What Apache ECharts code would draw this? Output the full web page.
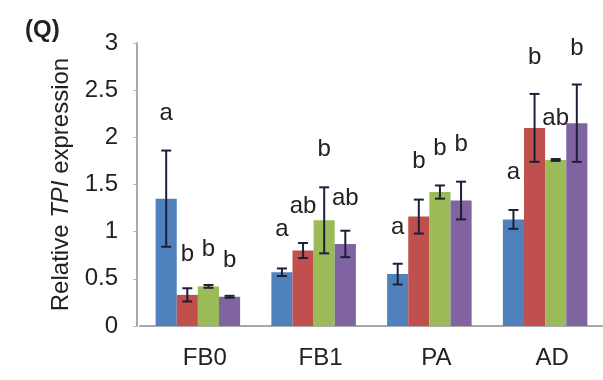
<!DOCTYPE html>
<html>
<head>
<meta charset="utf-8">
<script src="https://cdn.jsdelivr.net/npm/echarts@6/dist/echarts.min.js"></script>
<style>
html,body{margin:0;padding:0;background:#fff;}
#chart{width:603px;height:380px;}
</style>
</head>
<body>
<div id="chart"></div>
<script>
var categories = ['FB0', 'FB1', 'PA', 'AD'];
var yTicks = [0, 0.5, 1, 1.5, 2, 2.5, 3];

var means1 = [1.35, 0.57, 0.55, 1.13];
var means2 = [0.33, 0.80, 1.16, 2.10];
var means3 = [0.42, 1.12, 1.42, 1.76];
var means4 = [0.31, 0.87, 1.33, 2.15];

var errs1 = [0.51, 0.04, 0.11, 0.10];
var errs2 = [0.07, 0.08, 0.18, 0.36];
var errs3 = [0.015, 0.35, 0.07, 0.01];
var errs4 = [0.01, 0.14, 0.20, 0.41];

var letters1 = ['a', 'a', 'a', 'a'];
var letters2 = ['b', 'ab', 'b', 'b'];
var letters3 = ['b', 'b', 'b', 'ab'];
var letters4 = ['b', 'ab', 'b', 'b'];

var letterY1 = [2.25, 1.02, 1.05, 1.63];
var letterY2 = [0.76, 1.27, 1.74, 2.85];
var letterY3 = [0.81, 1.87, 1.88, 2.20];
var letterY4 = [0.70, 1.35, 1.93, 2.94];

var colors = ['#4F81BD', '#C0504D', '#9BBB59', '#8064A2'];
var FONT = "'Liberation Sans', Arial, sans-serif";
var GAP = 0.27;

var allMeans = [means1, means2, means3, means4];
var allErrs = [errs1, errs2, errs3, errs4];
var allLetters = [letters1, letters2, letters3, letters4];
var allLetterY = [letterY1, letterY2, letterY3, letterY4];

function makeRender(si) {
  return function (params, api) {
    var x = api.value(0), m = api.value(1), e = api.value(2), ly = api.value(3);
    var catW = api.size([1, 0])[0];
    var bw = catW * (1 - GAP) / 4;
    var off = (si - 1.5) * bw;
    var top = api.coord([x, m + e]);
    var bot = api.coord([x, m - e]);
    var cx = top[0] + off;
    var cap = 5;
    var lyP = api.coord([x, ly])[1];
    var stroke = {stroke: '#1b2038', lineWidth: 2};
    return {
      type: 'group',
      children: [
        {type: 'line', shape: {x1: cx, y1: top[1], x2: cx, y2: bot[1]}, style: stroke},
        {type: 'line', shape: {x1: cx - cap, y1: top[1], x2: cx + cap, y2: top[1]}, style: stroke},
        {type: 'line', shape: {x1: cx - cap, y1: bot[1], x2: cx + cap, y2: bot[1]}, style: stroke},
        {type: 'text', style: {text: allLetters[si][params.dataIndex], x: cx, y: lyP,
          align: 'center', verticalAlign: 'middle', fontSize: 24, fontFamily: FONT, fill: '#222'}}
      ]
    };
  };
}

var series = [];
for (var i = 0; i < 4; i++) {
  series.push({
    name: 'Series ' + (i + 1),
    type: 'bar',
    data: allMeans[i],
    barGap: '0%',
    barCategoryGap: (GAP * 100) + '%',
    itemStyle: {color: colors[i]},
    silent: true
  });
}
for (var j = 0; j < 4; j++) {
  var d = [];
  for (var k = 0; k < categories.length; k++) {
    d.push([k, allMeans[j][k], allErrs[j][k], allLetterY[j][k]]);
  }
  series.push({
    type: 'custom',
    renderItem: makeRender(j),
    data: d,
    z: 5,
    silent: true,
    clip: false
  });
}

var chart = echarts.init(document.getElementById('chart'), null, {renderer: 'canvas'});
chart.setOption({
  animation: false,
  backgroundColor: '#fff',
  grid: {left: 140, top: 43, bottom: 54, right: -21, containLabel: false},
  graphic: [{
    type: 'text', left: 25, top: 18,
    style: {text: '(Q)', fontSize: 24, fontWeight: 'bold', fontFamily: FONT, fill: '#222'}
  }],
  xAxis: {
    type: 'category',
    data: categories,
    axisLine: {show: true, lineStyle: {color: '#a8a8a8', width: 2}},
    axisTick: {show: false},
    axisLabel: {fontSize: 24, fontFamily: FONT, color: '#222', margin: 20, padding: [0, 0, 0, 14]}
  },
  yAxis: {
    type: 'value',
    min: yTicks[0],
    max: yTicks[yTicks.length - 1],
    interval: 0.5,
    offset: 3,
    splitLine: {show: false},
    axisLine: {show: true, lineStyle: {color: '#a8a8a8', width: 2}},
    axisTick: {show: true, inside: false, length: 4, lineStyle: {color: '#b8b8b8'}},
    axisLabel: {fontSize: 24, fontFamily: FONT, color: '#222', margin: 19},
    name: '{n|Relative }{i|TPI}{n| expression}',
    nameLocation: 'middle',
    nameRotate: 90,
    nameGap: 64,
    nameTextStyle: {
      rich: {
        n: {fontSize: 24, fontFamily: FONT, color: '#222'},
        i: {fontSize: 24, fontFamily: FONT, color: '#222', fontStyle: 'italic'}
      }
    }
  },
  series: series
});
</script>
</body>
</html>
